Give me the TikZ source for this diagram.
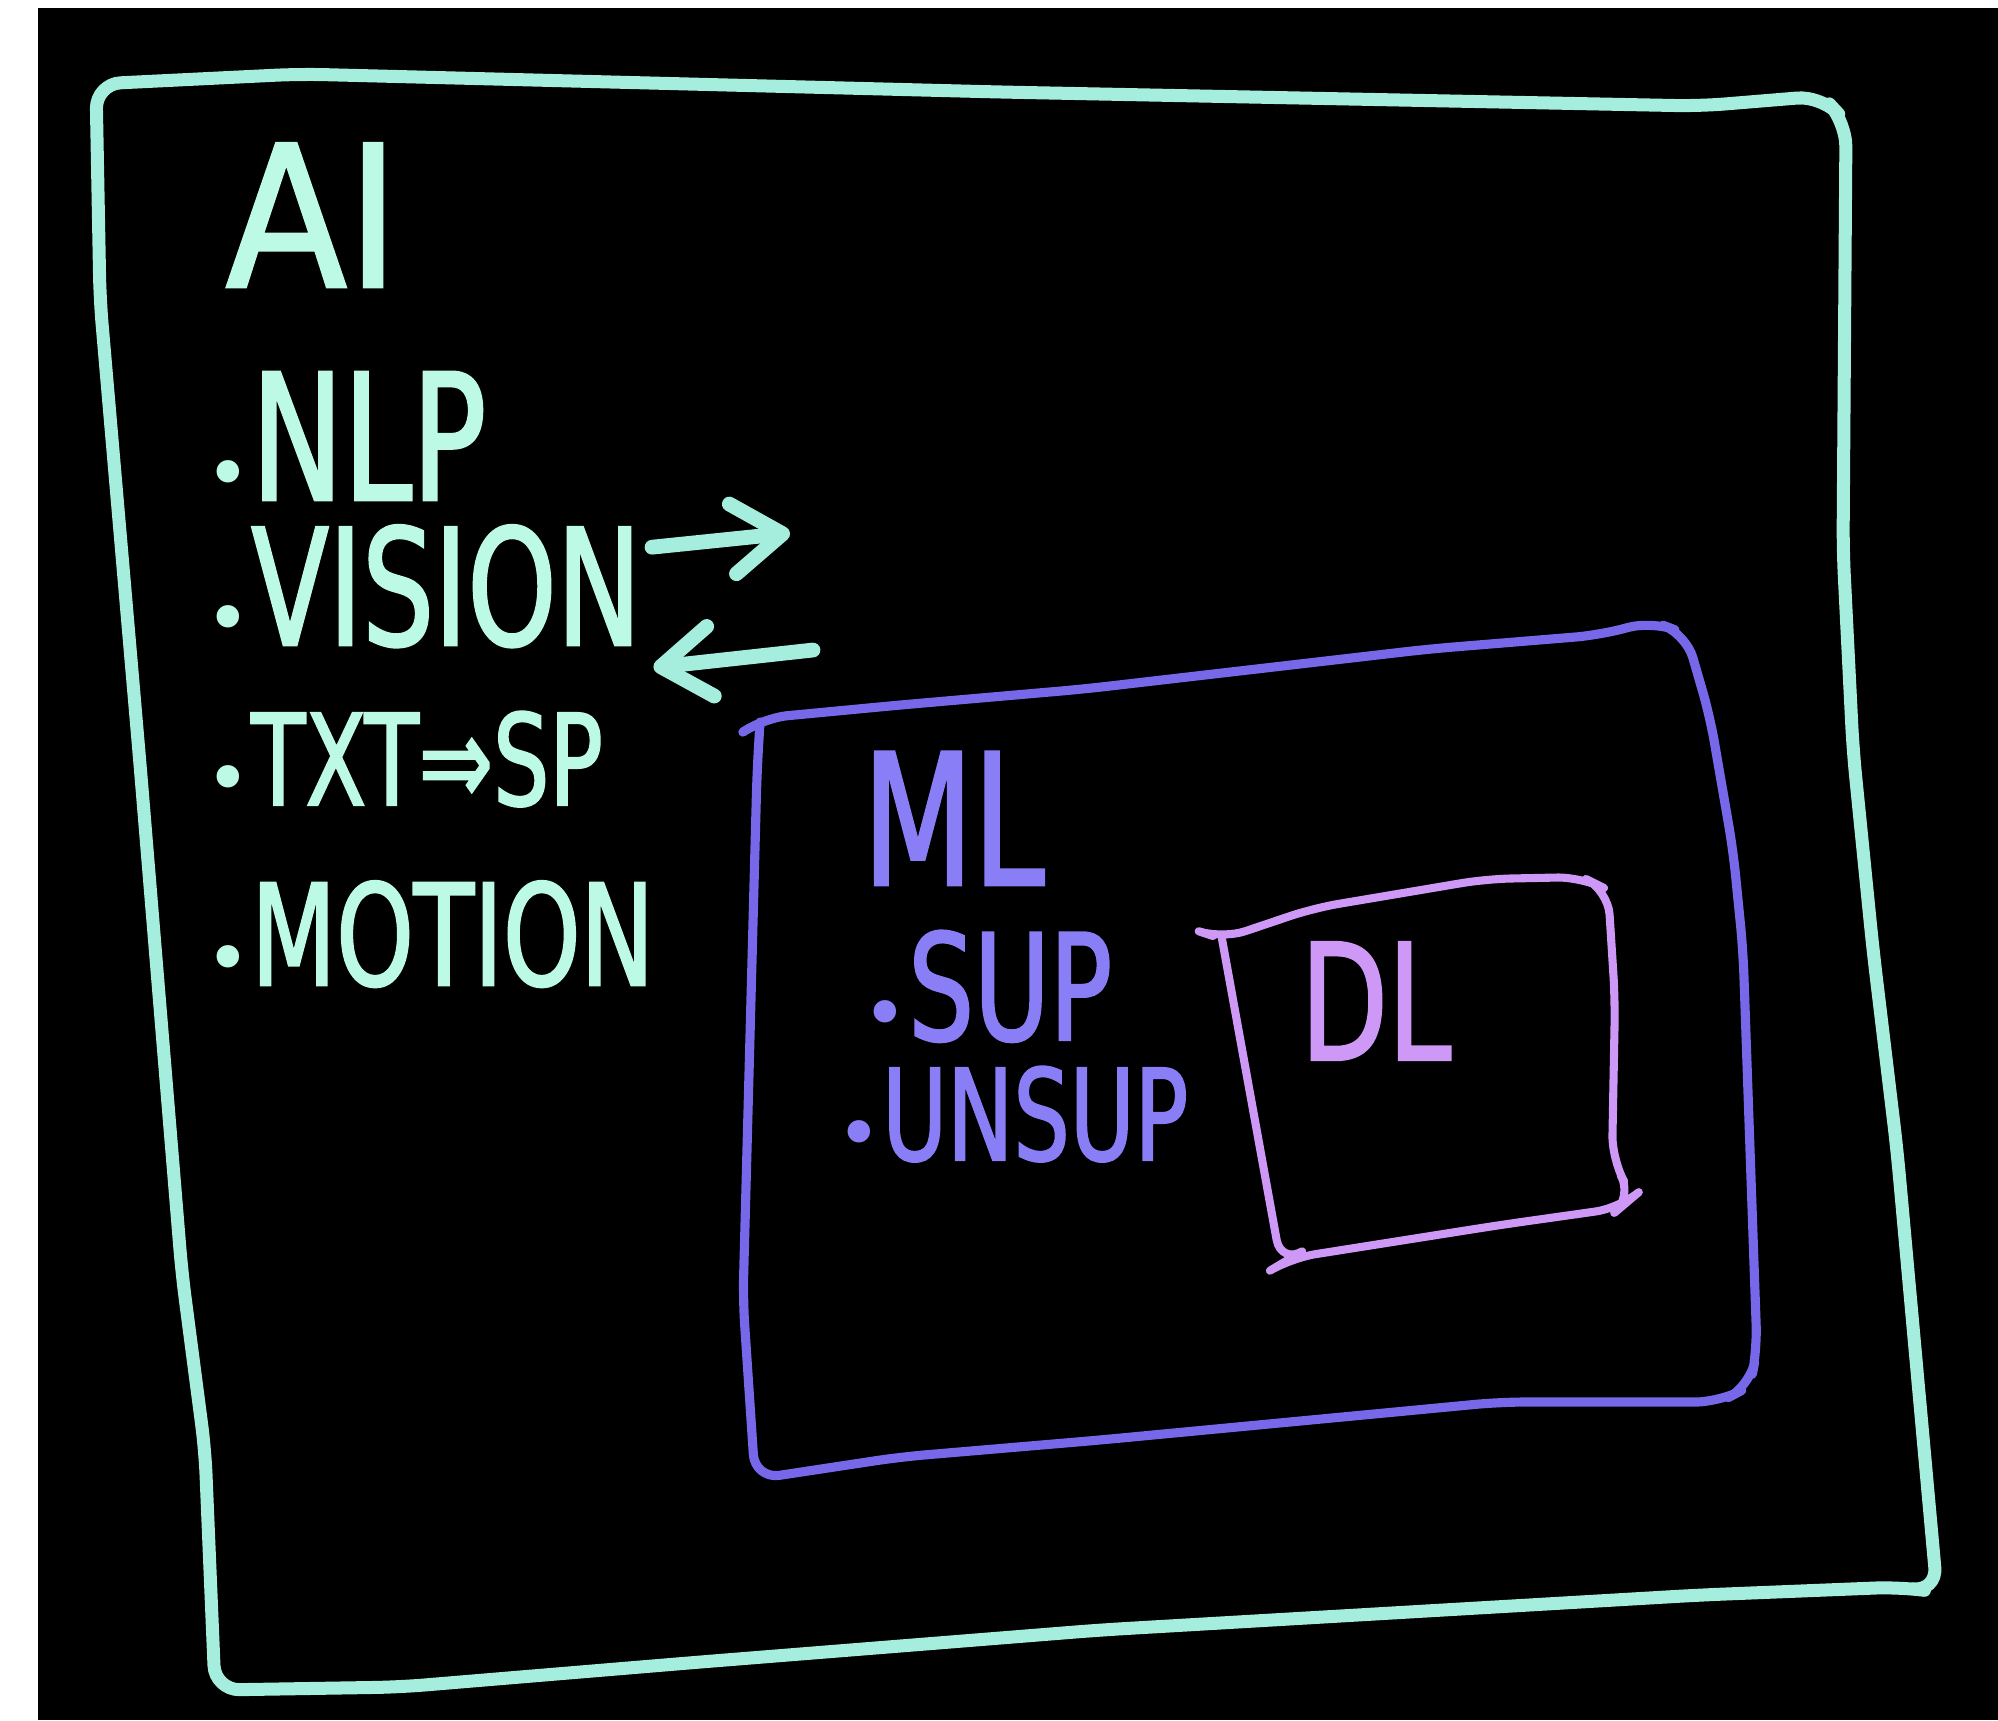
\documentclass[tikz,border=0pt]{standalone}
\usepackage{fontspec}
\newfontfamily\handfont[FakeStretch=0.7, FakeBold=1.5]{DejaVu Sans}
\newfontfamily\bighand[FakeStretch=0.9, FakeBold=1.5]{DejaVu Sans}
\newfontfamily\dotfont{DejaVu Sans}
\newcommand\blt{{\dotfont\fontsize{22}{22}\selectfont•}}
\usetikzlibrary{positioning, arrows.meta}
\definecolor{aicol}{RGB}{165,238,222}
\definecolor{aitxt}{RGB}{188,250,230}
\definecolor{mlcol}{RGB}{118,104,232}
\definecolor{mltxt}{RGB}{138,126,246}
\definecolor{dlcol}{RGB}{206,152,246}
\tikzset{
  pen/.style={line cap=round, line join=round, rounded corners=7pt},
  aibox/.style={pen, draw=aicol, line width=3.7pt},
  mlbox/.style={pen, draw=mlcol, line width=2.6pt},
  dlbox/.style={pen, draw=dlcol, line width=2.3pt},
  hand/.style={inner sep=0pt, anchor=base west},
  aitext/.style={hand, text=aitxt, font=\handfont\fontsize{44}{48}\selectfont},
  mltext/.style={hand, text=mltxt, font=\handfont\fontsize{44}{48}\selectfont},
  dltext/.style={hand, text=dlcol, font=\handfont\fontsize{46}{50}\selectfont},
  aiarrow/.style={draw=aicol, line width=4.2pt, line cap=round,
    -{Straight Barb[length=5mm, width=7mm, round]}}
}
\begin{document}
\begin{tikzpicture}[x=0.01cm, y=-0.01cm]
\useasboundingbox (0,0) rectangle (1998,1720);
\fill[white] (0,0) rectangle (1998,1720);
\fill[black] (38,8) rectangle (1998,1720);

\draw[aibox] (96,84) -- (300,74) -- (1000,92) -- (1700,106) -- (1822,96) -- (1846,122)
  -- (1843,550) -- (1853,750) -- (1873,950) -- (1897,1150) -- (1937,1592) -- (1900,1587)
  -- (1700,1595) -- (1100,1630) -- (700,1662) -- (400,1687) -- (215,1690) -- (205,1450)
  -- (182,1274) -- (140,764) -- (100,300) -- cycle;
\draw[mlbox] (743,732) -- (763,718) -- (900,705) -- (1084,689) -- (1429,649) -- (1600,635)
  -- (1652,621) -- (1686,634) -- (1710,717) -- (1733,850) -- (1743,950) -- (1750,1150)
  -- (1757,1350) -- (1750,1386) -- (1720,1402) -- (1500,1402) -- (1100,1440) -- (900,1457)
  -- (755,1479) -- (743,1300) -- (757,772) -- (760,722);
\draw[dlbox] (1213,936) -- (1222,939) -- (1314,908) -- (1486,879) -- (1582,877) -- (1608,890)
  -- (1615,1000) -- (1612,1160) -- (1633,1197) -- (1620,1208) -- (1500,1225) -- (1291,1258)
  -- (1281,1264) -- (1222,939);

\node[aitext, font=\bighand\fontsize{56}{60}\selectfont] (ai) at (225,287) {AI};
\node[aitext, font=\handfont\fontsize{50}{54}\selectfont] (nlp) at (205,500) {\blt NLP};
\node[aitext, font=\handfont\fontsize{46}{50}\selectfont, below=1.45cm of nlp.base west,
  anchor=base west] (vision) {\blt VISION};
\node[aitext, font=\handfont\fontsize{36}{40}\selectfont, below=1.6cm of vision.base west,
  anchor=base west] (txt) {\blt TXT⇒SP};
\node[aitext, font=\handfont\fontsize{40}{44}\selectfont, below=1.8cm of txt.base west,
  anchor=base west] (motion) {\blt MOTION};

\node[mltext, font=\handfont\fontsize{52}{56}\selectfont] (ml) at (862,885) {ML};
\node[mltext, font=\handfont\fontsize{42}{46}\selectfont, below=1.55cm of ml.base west,
  anchor=base west] (sup) {\blt SUP};
\node[mltext, font=\handfont\fontsize{36}{40}\selectfont, below left=1.2cm and 0.26cm of sup.base west,
  anchor=base west] (unsup) {\blt UNSUP};
\node[dltext] (dl) at (1300,1060) {DL};

\coordinate (visiontip) at (790,533);
\coordinate (sptail) at (813,650);
\draw[aiarrow] ([xshift=1mm, yshift=3.9mm]vision.east) -- (visiontip);
\draw[aiarrow] (sptail) -- ([xshift=5mm, yshift=4.3mm]txt.north east);
\end{tikzpicture}
\end{document}
